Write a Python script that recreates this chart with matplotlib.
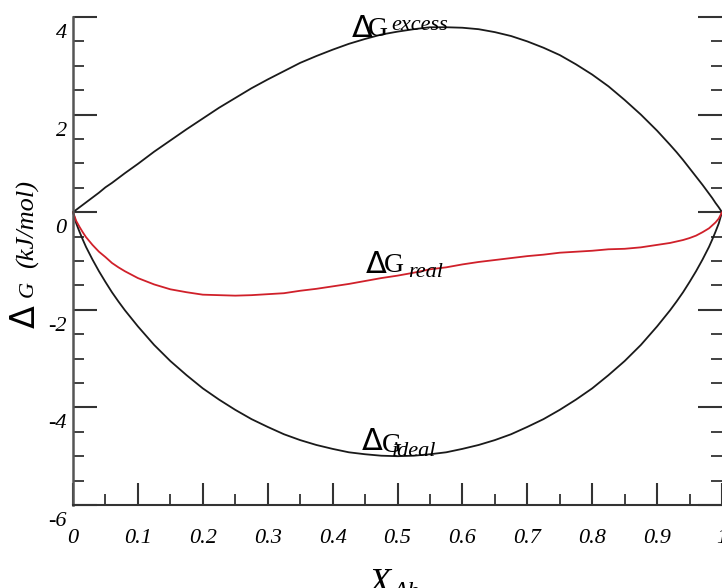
import matplotlib
matplotlib.use("Agg")
import matplotlib.pyplot as plt
import matplotlib.transforms as mtransforms
from matplotlib.ticker import FixedLocator, MultipleLocator

# ---- data ----
x_ab = [0.0, 0.005, 0.01, 0.015, 0.02, 0.03, 0.04, 0.05, 0.06, 0.07, 0.08,
        0.10, 0.125, 0.15, 0.175, 0.20, 0.225, 0.25, 0.275, 0.30, 0.325,
        0.35, 0.375, 0.40, 0.425, 0.45, 0.475, 0.50, 0.525, 0.55, 0.575,
        0.60, 0.625, 0.65, 0.675, 0.70, 0.725, 0.75, 0.775, 0.80, 0.825,
        0.85, 0.875, 0.90, 0.92, 0.93, 0.94, 0.95, 0.96, 0.97, 0.98, 0.985,
        0.99, 0.995, 1.0]
g_ideal = [0.0, -0.23, -0.40, -0.56, -0.71, -0.97, -1.21, -1.43, -1.64, -1.83,
           -2.01, -2.34, -2.72, -3.05, -3.34, -3.61, -3.84, -4.05, -4.24, -4.40,
           -4.55, -4.67, -4.77, -4.85, -4.92, -4.96, -4.99, -5.00, -4.99, -4.96,
           -4.92, -4.85, -4.77, -4.67, -4.55, -4.40, -4.24, -4.05, -3.84, -3.61,
           -3.34, -3.05, -2.72, -2.34, -2.01, -1.83, -1.64, -1.43, -1.21, -0.97,
           -0.71, -0.56, -0.40, -0.23, 0.0]
g_excess = [0.0, 0.05, 0.10, 0.15, 0.20, 0.30, 0.40, 0.51, 0.60, 0.70, 0.80,
            0.99, 1.24, 1.47, 1.70, 1.92, 2.14, 2.34, 2.54, 2.72, 2.89, 3.06,
            3.20, 3.33, 3.45, 3.55, 3.64, 3.70, 3.75, 3.79, 3.79, 3.78, 3.75,
            3.69, 3.61, 3.50, 3.37, 3.22, 3.03, 2.82, 2.58, 2.30, 2.00, 1.67,
            1.38, 1.23, 1.07, 0.90, 0.73, 0.56, 0.38, 0.29, 0.19, 0.10, 0.0]
g_real = [0.0, -0.18, -0.30, -0.41, -0.51, -0.67, -0.81, -0.92, -1.04, -1.13,
          -1.21, -1.35, -1.48, -1.58, -1.64, -1.69, -1.70, -1.71, -1.70, -1.68,
          -1.66, -1.61, -1.57, -1.52, -1.47, -1.41, -1.35, -1.30, -1.24, -1.17,
          -1.13, -1.07, -1.02, -0.98, -0.94, -0.90, -0.87, -0.83, -0.81, -0.79,
          -0.76, -0.75, -0.72, -0.67, -0.63, -0.60, -0.57, -0.53, -0.48, -0.41,
          -0.33, -0.27, -0.21, -0.13, 0.0]

x_ticks = [0, 0.1, 0.2, 0.3, 0.4, 0.5, 0.6, 0.7, 0.8, 0.9, 1.0]
x_tick_labels = ["0", "0.1", "0.2", "0.3", "0.4", "0.5", "0.6", "0.7", "0.8", "0.9", "1"]
y_ticks = [-6, -4, -2, 0, 2, 4]
y_tick_labels = ["-6", "-4", "-2", "0", "2", "4"]

W, H = 722, 588
fig = plt.figure(figsize=(W / 100, H / 100), dpi=100)
ax = fig.add_axes([73 / W, 1 - 505 / H, (722 - 73) / W, (505 - 17) / H])

line_kw = dict(lw=1.3, clip_on=False, solid_joinstyle="round", solid_capstyle="round")
ax.plot(x_ab, g_excess, color="#1a1a1a", **line_kw)
ax.plot(x_ab, g_ideal, color="#1a1a1a", **line_kw)
ax.plot(x_ab, g_real, color="#d0202a", **line_kw)

ax.set_xlim(0, 1)
ax.set_ylim(-6, 4)

for s in ("top", "right"):
    ax.spines[s].set_visible(False)
ax.spines["left"].set_color("#555555")
ax.spines["left"].set_linewidth(1.8)
ax.spines["bottom"].set_color("#333333")
ax.spines["bottom"].set_linewidth(1.5)

ax.xaxis.set_major_locator(FixedLocator(x_ticks))
ax.yaxis.set_major_locator(FixedLocator(y_ticks))
ax.xaxis.set_minor_locator(MultipleLocator(0.05))
ax.yaxis.set_minor_locator(MultipleLocator(0.5))

tick_font = dict(family="Liberation Serif", style="italic", size=16)
ax.set_xticklabels(x_tick_labels, fontdict=tick_font)
ax.set_yticklabels(y_tick_labels, fontdict=tick_font)

ax.tick_params(axis="both", which="both", direction="in", color="#333333")
ax.tick_params(axis="y", which="both", left=True, right=True)
ax.tick_params(axis="x", which="both", top=False)
ax.tick_params(axis="y", which="major", length=17, width=1.5, pad=4.5)
ax.tick_params(axis="y", which="minor", length=8, width=1.3)
ax.tick_params(axis="x", which="major", length=16, width=1.5, pad=17)
ax.tick_params(axis="x", which="minor", length=8, width=1.3)

offset = mtransforms.ScaledTranslation(0, -0.14, fig.dpi_scale_trans)
for lab in ax.get_yticklabels():
    lab.set_transform(lab.get_transform() + offset)


def fx(px):
    return px / W


def fy(py):
    return 1 - py / H


# ---- x-axis label ----
fig.text(fx(368), fy(593), "X", family="Liberation Serif", style="italic", size=26,
         ha="left", va="baseline")
fig.text(fx(392), fy(599), "Ab", family="Liberation Serif", style="italic", size=18,
         ha="left", va="baseline")

# ---- y-axis label (rotated) ----
fig.text(fx(35), fy(328), "Δ", family="DejaVu Sans", size=24, rotation=90,
         rotation_mode="anchor", ha="left", va="baseline")
fig.text(fx(33), fy(297), "G", family="Liberation Serif", style="italic", size=16,
         rotation=90, rotation_mode="anchor", ha="left", va="baseline")
fig.text(fx(34), fy(268), "(kJ/mol)", family="Liberation Serif", style="italic",
         size=19, rotation=90, rotation_mode="anchor", ha="left", va="baseline")


# ---- curve labels ----
def curve_label(x_d, y_d, g_dx, g_dy, sub, s_dx, s_dy):
    fig.text(fx(x_d), fy(y_d), "Δ", family="DejaVu Sans", size=22,
             ha="left", va="baseline")
    fig.text(fx(x_d + g_dx), fy(y_d + g_dy), "G", family="Liberation Serif",
             size=20, ha="left", va="baseline")
    fig.text(fx(x_d + s_dx), fy(y_d + s_dy), sub, family="Liberation Serif",
             style="italic", size=16, ha="left", va="baseline")


curve_label(352, 37, 16, -1, "excess", 39, -7)
curve_label(366, 273, 18, -1, "real", 42, 4)
curve_label(362, 450, 20, 2, "ideal", 30, 6)

fig.savefig("out.png", dpi=100)
